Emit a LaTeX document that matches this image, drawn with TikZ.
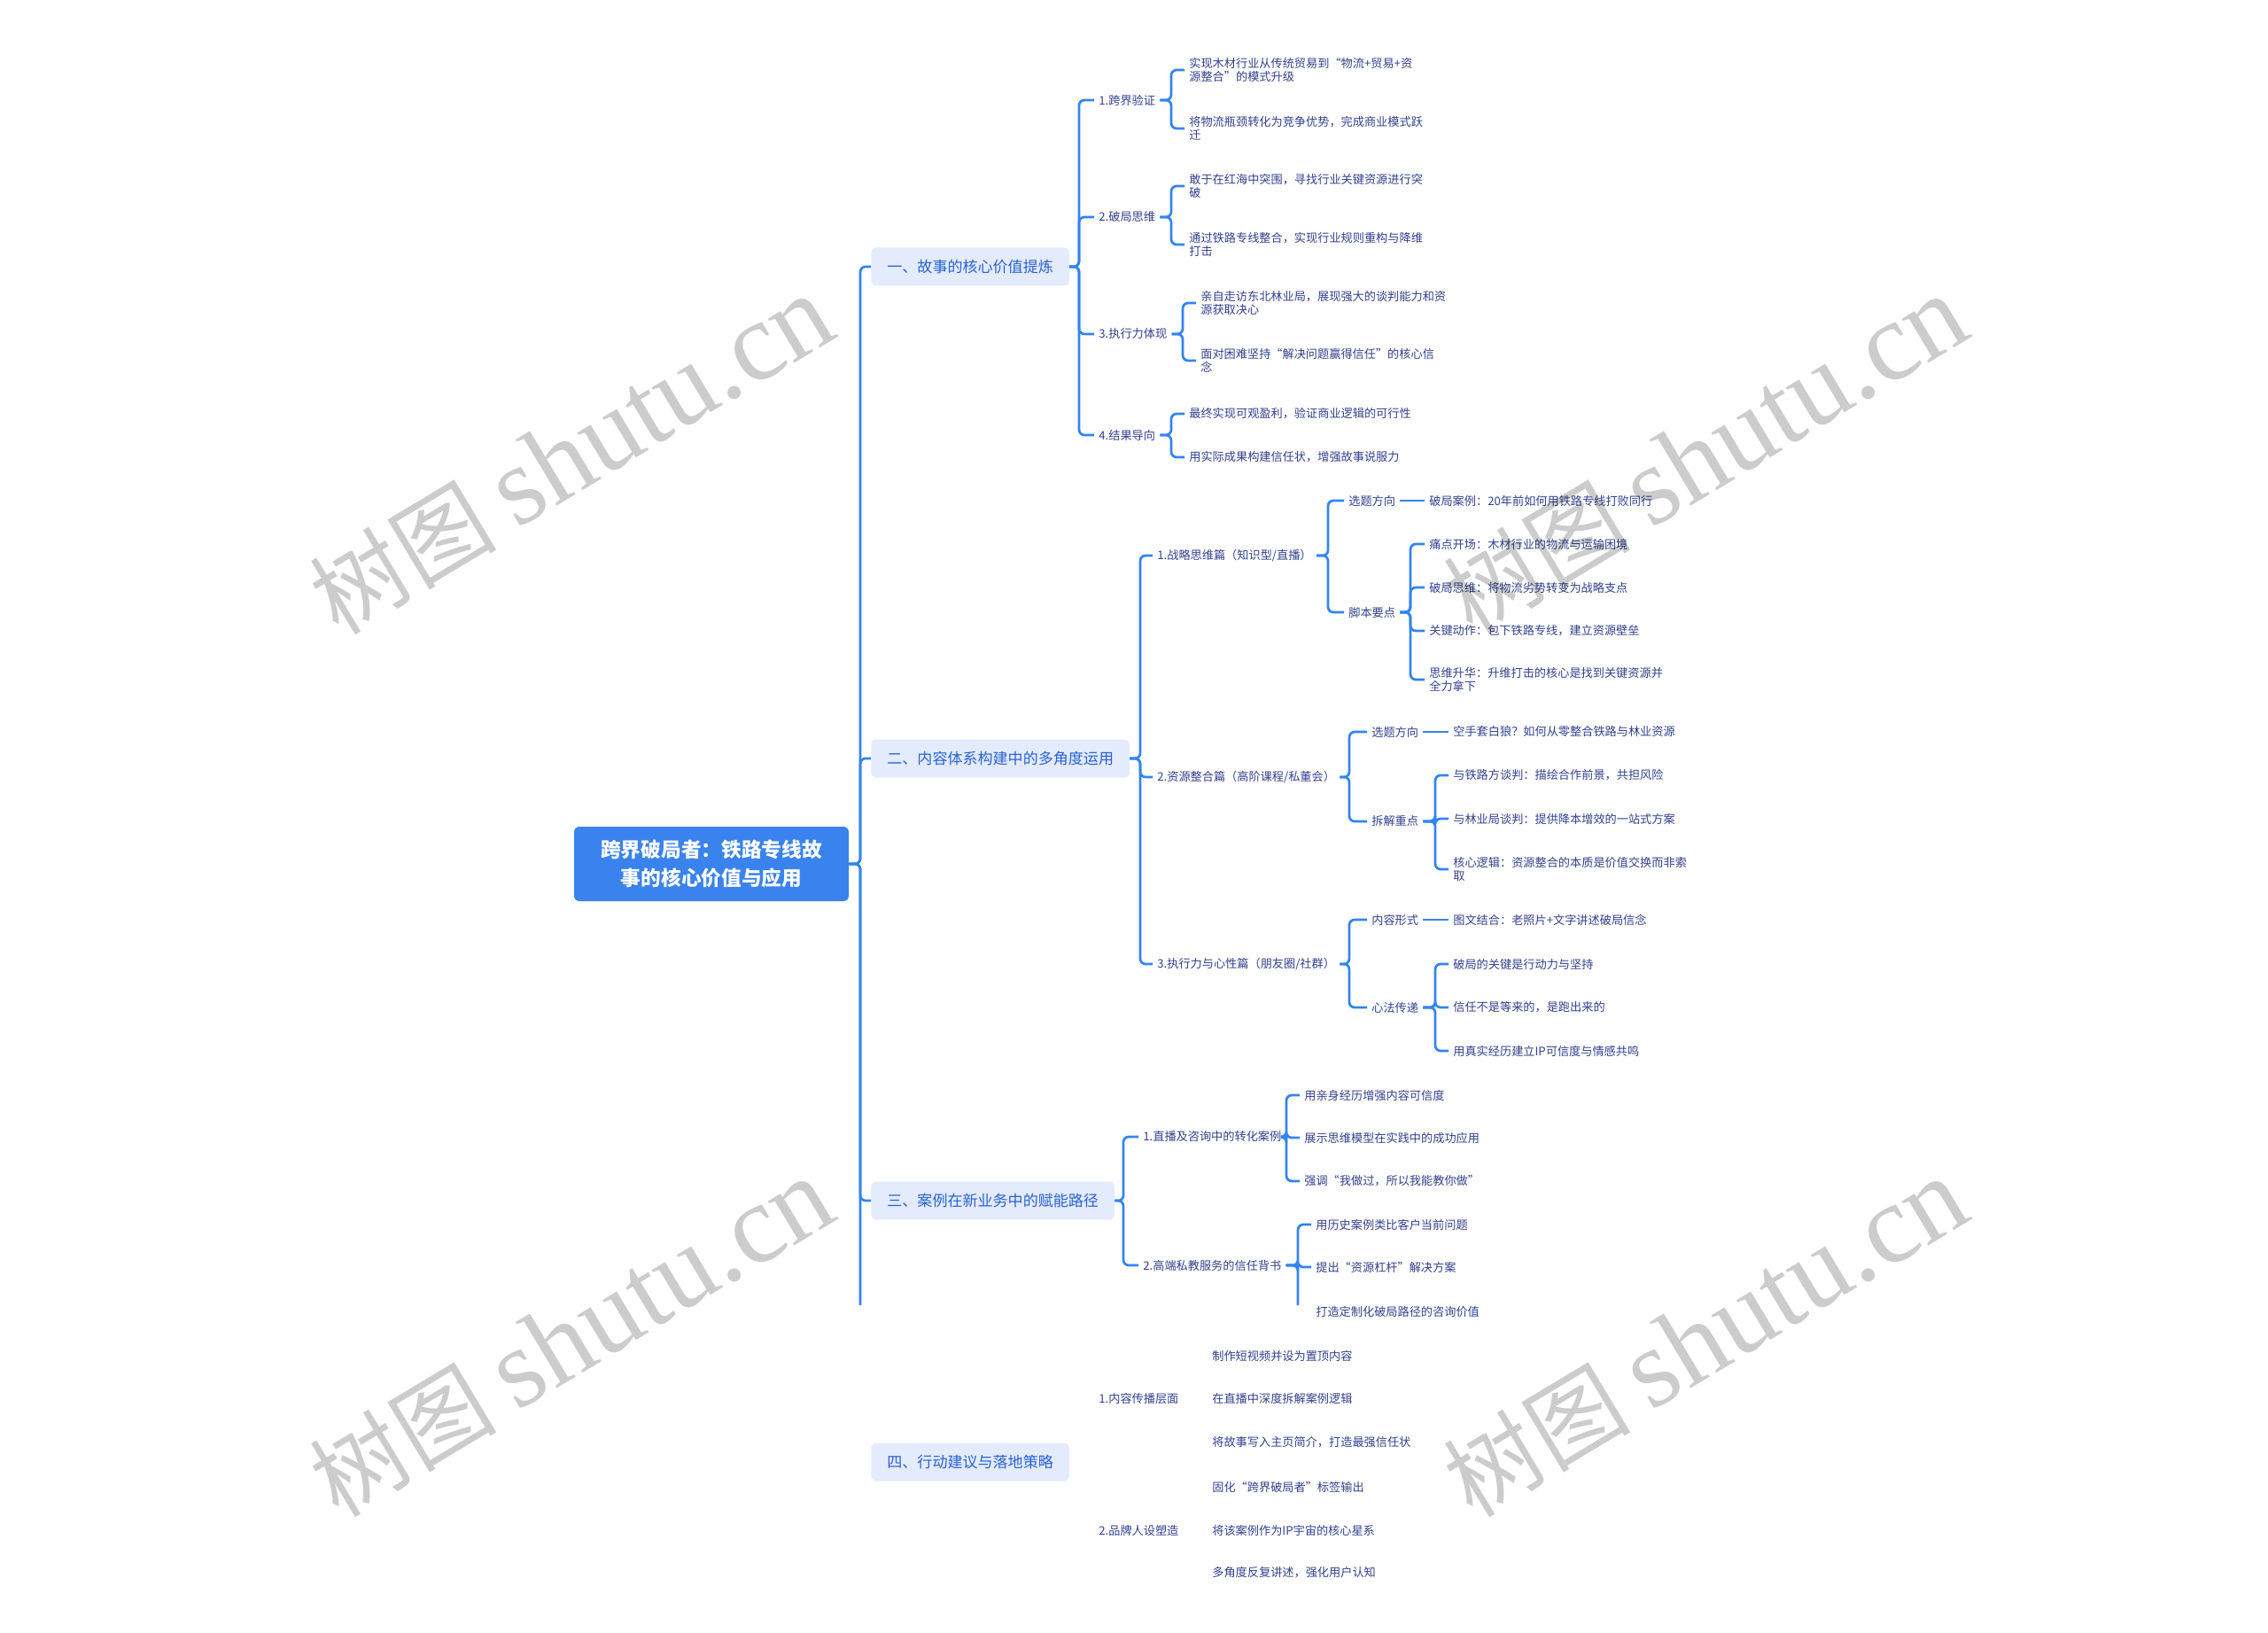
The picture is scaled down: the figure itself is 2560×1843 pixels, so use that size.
\documentclass[tikz,border=0pt]{standalone}
\usepackage{fontspec}
\setmainfont{Noto Sans CJK SC}
\newfontfamily\wmlatin{Liberation Serif}
\usepackage{tikz}
\usetikzlibrary{calc}
\definecolor{mapLine}{HTML}{3384F2}
\definecolor{mapRoot}{HTML}{3A83EE}
\definecolor{secFill}{HTML}{E3EBFC}
\definecolor{secInk}{HTML}{2A62D6}
\definecolor{leafInk}{HTML}{33418F}

\begin{document}
\begin{tikzpicture}[x=0.2mm,y=-0.2mm,font=\fontsize{7.5}{8.5}\selectfont,
  link/.style={draw=mapLine,line width=0.55mm,rounded corners=1.2mm},
  root/.style={fill=mapRoot,text=white,rounded corners=1.2mm,minimum width=62mm,minimum height=16.8mm,align=center,font=\fontsize{12.9}{18}\selectfont\bfseries},
  sec/.style={fill=secFill,text=secInk,rounded corners=1.2mm,inner xsep=3.6mm,minimum height=8.6mm,anchor=west,font=\fontsize{9.7}{11}\selectfont},
  item/.style={text=leafInk,anchor=west,inner sep=1mm,align=left},
  wmark/.style={text=black,text opacity=0.2,rotate=31,font=\fontsize{60}{70}\selectfont}
]
  \fill[white] (0,0) rectangle (2560,1843);
  \useasboundingbox (0,0) rectangle (2560,1843);

  \node[root] (root) at (803,975) {跨界破局者：铁路专线故\\事的核心价值与应用};

  \node[sec] (secA) at (983,301) {一、故事的核心价值提炼};
  \node[sec] (secB) at (983,856) {二、内容体系构建中的多角度运用};
  \node[sec] (secC) at (983,1355) {三、案例在新业务中的赋能路径};
  \node[sec] (secD) at (983,1650) {四、行动建议与落地策略};

  \coordinate (trunkEnd) at (971,1473);
  \foreach \c in {secA,secB,secC}
    \draw[link] (root.east) -| ($(\c.west)+(-12,0)$) -- (\c.west);
  \draw[link] (root.east) -| (trunkEnd);

  % 一
  \node[item] (a1) at (1235,113) {1.跨界验证};
  \node[item] (a2) at (1235,245) {2.破局思维};
  \node[item] (a3) at (1235,377) {3.执行力体现};
  \node[item] (a4) at (1235,491) {4.结果导向};
  \foreach \c in {a1,a2,a3,a4}
    \draw[link] (secA.east) -| ($(\c.west)+(-17,0)$) -- (\c.west);

  \node[item] (a1x) at (1337,79) {实现木材行业从传统贸易到“物流+贸易+资\\源整合”的模式升级};
  \node[item] (a1y) at (1337,145) {将物流瓶颈转化为竞争优势，完成商业模式跃\\迁};
  \node[item] (a2x) at (1337,210) {敢于在红海中突围，寻找行业关键资源进行突\\破};
  \node[item] (a2y) at (1337,276) {通过铁路专线整合，实现行业规则重构与降维\\打击};
  \node[item] (a3x) at (1350,342) {亲自走访东北林业局，展现强大的谈判能力和资\\源获取决心};
  \node[item] (a3y) at (1350,407) {面对困难坚持“解决问题赢得信任”的核心信\\念};
  \node[item] (a4x) at (1337,467) {最终实现可观盈利，验证商业逻辑的可行性};
  \node[item] (a4y) at (1337,516) {用实际成果构建信任状，增强故事说服力};
  \foreach \p/\c in {a1/a1x,a1/a1y,a2/a2x,a2/a2y,a3/a3x,a3/a3y,a4/a4x,a4/a4y}
    \draw[link] (\p.east) -| ($(\c.west)+(-15,0)$) -- (\c.west);

  % 二
  \node[item] (b1) at (1301,627) {1.战略思维篇（知识型/直播）};
  \node[item] (b2) at (1301,877) {2.资源整合篇（高阶课程/私董会）};
  \node[item] (b3) at (1301,1088) {3.执行力与心性篇（朋友圈/社群）};
  \foreach \c in {b1,b2,b3}
    \draw[link] (secB.east) -| ($(\c.west)+(-14,0)$) -- (\c.west);

  \node[item] (b1t) at (1517,565) {选题方向};
  \node[item] (b1s) at (1517,691) {脚本要点};
  \node[item] (b1tx) at (1608,565) {破局案例：20年前如何用铁路专线打败同行};
  \node[item] (b1s1) at (1608,614) {痛点开场：木材行业的物流与运输困境};
  \node[item] (b1s2) at (1608,663) {破局思维：将物流劣势转变为战略支点};
  \node[item] (b1s3) at (1608,712) {关键动作：包下铁路专线，建立资源壁垒};
  \node[item] (b1s4) at (1608,767) {思维升华：升维打击的核心是找到关键资源并\\全力拿下};
  \foreach \c in {b1t,b1s}
    \draw[link] (b1.east) -| ($(\c.west)+(-18,0)$) -- (\c.west);
  \draw[link] (b1t) -- (b1tx);
  \foreach \c in {b1s1,b1s2,b1s3,b1s4}
    \draw[link] (b1s.east) -| ($(\c.west)+(-16,0)$) -- (\c.west);

  \node[item] (b2t) at (1543,826) {选题方向};
  \node[item] (b2s) at (1543,927) {拆解重点};
  \node[item] (b2tx) at (1635,826) {空手套白狼？如何从零整合铁路与林业资源};
  \node[item] (b2s1) at (1635,875) {与铁路方谈判：描绘合作前景，共担风险};
  \node[item] (b2s2) at (1635,924) {与林业局谈判：提供降本增效的一站式方案};
  \node[item] (b2s3) at (1635,981) {核心逻辑：资源整合的本质是价值交换而非索\\取};
  \foreach \c in {b2t,b2s}
    \draw[link] (b2.east) -| ($(\c.west)+(-20,0)$) -- (\c.west);
  \draw[link] (b2t) -- (b2tx);
  \foreach \c in {b2s1,b2s2,b2s3}
    \draw[link] (b2s.east) -| ($(\c.west)+(-15,0)$) -- (\c.west);

  \node[item] (b3t) at (1543,1038) {内容形式};
  \node[item] (b3s) at (1543,1137) {心法传递};
  \node[item] (b3tx) at (1635,1038) {图文结合：老照片+文字讲述破局信念};
  \node[item] (b3s1) at (1635,1088) {破局的关键是行动力与坚持};
  \node[item] (b3s2) at (1635,1137) {信任不是等来的，是跑出来的};
  \node[item] (b3s3) at (1635,1186) {用真实经历建立IP可信度与情感共鸣};
  \foreach \c in {b3t,b3s}
    \draw[link] (b3.east) -| ($(\c.west)+(-20,0)$) -- (\c.west);
  \draw[link] (b3t) -- (b3tx);
  \foreach \c in {b3s1,b3s2,b3s3}
    \draw[link] (b3s.east) -| ($(\c.west)+(-15,0)$) -- (\c.west);

  % 三
  \node[item] (c1) at (1285,1283) {1.直播及咨询中的转化案例};
  \node[item] (c2) at (1285,1428) {2.高端私教服务的信任背书};
  \foreach \c in {c1,c2}
    \draw[link] (secC.east) -| ($(\c.west)+(-17,0)$) -- (\c.west);

  \node[item] (c1x) at (1467,1236) {用亲身经历增强内容可信度};
  \node[item] (c1y) at (1467,1284) {展示思维模型在实践中的成功应用};
  \node[item] (c1z) at (1467,1333) {强调“我做过，所以我能教你做”};
  \node[item] (c2x) at (1480,1382) {用历史案例类比客户当前问题};
  \node[item] (c2y) at (1480,1430) {提出“资源杠杆”解决方案};
  \node[item] (c2z) at (1480,1481) {打造定制化破局路径的咨询价值};
  \coordinate (c2End) at (1465,1473);
  \foreach \p/\c in {c1/c1x,c1/c1y,c1/c1z,c2/c2x,c2/c2y}
    \draw[link] (\p.east) -| ($(\c.west)+(-15,0)$) -- (\c.west);
  \draw[link] (c2.east) -| (c2End);

  % 四
  \node[item] (d1) at (1235,1578) {1.内容传播层面};
  \node[item] (d2) at (1235,1727) {2.品牌人设塑造};
  \node[item] (d1x) at (1363,1530) {制作短视频并设为置顶内容};
  \node[item] (d1y) at (1363,1578) {在直播中深度拆解案例逻辑};
  \node[item] (d1z) at (1363,1628) {将故事写入主页简介，打造最强信任状};
  \node[item] (d2x) at (1363,1678) {固化“跨界破局者”标签输出};
  \node[item] (d2y) at (1363,1727) {将该案例作为IP宇宙的核心星系};
  \node[item] (d2z) at (1363,1775) {多角度反复讲述，强化用户认知};

  \node[wmark] (wm1) at (645,514) {树图 {\wmlatin\fontsize{72}{80}\selectfont shutu.cn}};
  \node[wmark] (wm2) at (1925,514) {树图 {\wmlatin\fontsize{72}{80}\selectfont shutu.cn}};
  \node[wmark] (wm3) at (645,1510) {树图 {\wmlatin\fontsize{72}{80}\selectfont shutu.cn}};
  \node[wmark] (wm4) at (1925,1510) {树图 {\wmlatin\fontsize{72}{80}\selectfont shutu.cn}};
\end{tikzpicture}
\end{document}
